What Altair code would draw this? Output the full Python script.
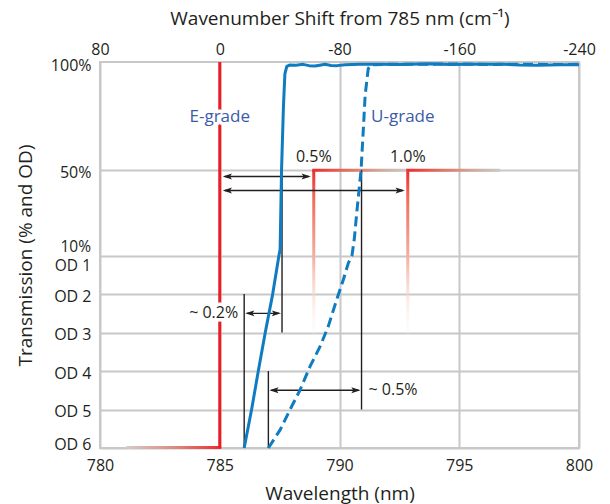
import altair as alt
import pandas as pd

FONT = "Open Sans"
INK = "#231f20"
RED = "#ed1c24"
BLUE = "#0f7bc1"
LBLUE = "#3b5ba8"
GRID = "#c8c8c8"

# ---------------- data (wavelength nm, transmission %) ----------------
# E-grade edge (solid blue)
e_wl = [786.02, 786.33, 786.61, 786.90, 787.21, 787.47, 787.52, 787.58, 787.66, 787.72, 787.80, 787.93,
        788.18, 788.48, 788.73, 788.98, 789.23, 789.39, 789.65, 789.90, 790.23, 790.86, 791.69,
        792.53, 793.78, 794.61, 795.45, 796.83, 797.54, 798.25, 799.21, 800.0]
e_tr = [0.0001, 0.001, 0.01, 0.1, 1, 10, 12.8, 50, 80, 95, 98.6, 99.2,
        99.1, 99.5, 98.9, 98.7, 99.2, 99.5, 99.0, 98.9, 99.3, 99.5, 99.6,
        99.4, 99.8, 99.4, 99.6, 99.5, 99.2, 99.1, 99.3, 99.3]
# U-grade edge (dashed blue)
u_wl = [787.03, 787.52, 788.00, 788.35, 788.77, 789.19, 789.53, 789.88, 790.16, 790.37, 790.52, 790.62,
        790.72, 790.90, 791.00, 791.07, 791.20, 791.32, 792.2, 793.4, 794.8, 796.2, 797.6, 798.9, 800.0]
u_tr = [0.0001, 0.000295, 0.0012, 0.0032, 0.0132, 0.0437, 0.1445, 0.708, 2.37, 6.46, 10, 18,
        30, 50, 70, 85, 97.5, 99.3, 99.6, 99.5, 99.7, 99.4, 99.6, 99.4, 99.5]

laser_nm = 785.0
foot_start_nm = 781.1          # start of the E-grade OD 6 foot
top_tr = 100.6                 # transmission at the top of the plot

step_nm = [788.925, 792.85]    # 785 nm + 0.5 % and + 1.0 %
step_end_nm = [792.85, 796.7]
step_lbl = ["0.5%", "1.0%"]
step_tr = 50
step_fade_tr = 0.043
step_lbl_tr = 56

arr_from = [785.0, 785.0, 786.02, 787.03]
arr_to = [788.925, 792.85, 787.6, 790.92]
arr_tr = [47, 40.5, 0.316, 0.00316]

vl_nm = [786.02, 787.6, 787.03, 790.92]
vl_top = [1, 50, 0.01, 50]
vl_bot = [0.0001, 0.1, 0.0001, 0.001]

grade_lbl = ["E-grade", "U-grade"]
grade_nm = [785.0, 791.32]
grade_tr = 75

pct_lbl = ["~ 0.2%", "~ 0.5%"]

x_ticks = [780, 785, 790, 795, 800]
top_ticks = [80, 0, -80, -160, -240]      # wavenumber shift labels shown above the gridlines
od_ticks = [6, 5, 4, 3, 2]
pct_ticks = [50, 100]

# ---------------- helpers ----------------
def hexpr(f):
    return (f"datum.{f} >= 10 ? 5 + (datum.{f} - 10) / 18 : "
            f"6 + log(datum.{f} / 100) / LN10")

def hpos(t):
    import math
    return 5 + (t - 10) / 18 if t >= 10 else 6 + math.log10(t / 100)

W, H = 479, 386
Y_TOP = hpos(top_tr)
XS = alt.Scale(domain=[780, 800], nice=False, zero=False)
YS = alt.Scale(domain=[0, Y_TOP], nice=False, zero=False)

def X(f):
    return alt.X(f"{f}:Q", scale=XS, axis=None)

def X2(f):
    return alt.X2(f"{f}:Q")

def Y(f):
    return alt.Y(f"{f}:Q", scale=YS, axis=None)

def Y2(f):
    return alt.Y2(f"{f}:Q")

GS = alt.GradientStop

# ---------------- axes layers ----------------
y_vals = [6 - od for od in od_ticks] + [5] + [hpos(p) for p in pct_ticks]
lab = "''"
for od in od_ticks:
    lab = f"abs(datum.value - {6 - od}) < 0.01 ? 'OD {od}' : " + lab
for p in pct_ticks:
    lab = f"abs(datum.value - {hpos(p):.4f}) < 0.01 ? '{p}%' : " + lab

top_lab = "''"
for xv, s in zip(x_ticks, top_ticks):
    top_lab = f"datum.value == {xv} ? '{s}' : " + top_lab

axis_layer = alt.Chart(pd.DataFrame({"x": [780.0], "h": [0.0]})).mark_point(opacity=0).encode(
    x=alt.X("x:Q", scale=XS, axis=alt.Axis(
        orient="bottom", values=x_ticks, title="Wavelength (nm)", grid=True, ticks=False, domain=False,
        labelFlush=False, labelPadding=9, format="d", titleY=45, titleBaseline="middle")),
    y=alt.Y("h:Q", scale=YS, axis=alt.Axis(
        orient="left", values=y_vals, labelExpr=lab, grid=True, ticks=False, domain=False,
        labelPadding=9, labelFlush=False,
        labelOffset={"condition": {"test": "datum.value < 0.5", "value": -4}, "value": 2},
        gridOpacity={"condition": {"test": "datum.value > 9.5", "value": 0}, "value": 1},
        title="Transmission (% and OD)", titleX=-75, titleY=H / 2,
        titleBaseline="middle", titleAlign="center")),
)

top_axis_layer = alt.Chart(pd.DataFrame({"x": [780.0]})).mark_point(opacity=0).encode(
    x=alt.X("x:Q", scale=XS, axis=alt.Axis(
        orient="top", values=x_ticks, labelExpr=top_lab, title="Wavenumber Shift from 785 nm (cm⁻¹)",
        ticks=False, domain=False, grid=False, labelFlush=False, labelPadding=5,
        titleY=-44, titleX=W / 2, titleBaseline="middle")),
    y=alt.value(0),
)

# 10% / OD 1 shared gridline labels
y1_df = pd.DataFrame({"t": [10]})
lbl10 = alt.Chart(y1_df).transform_calculate(h=hexpr("t")).mark_text(
    text="10%", align="right", baseline="middle", dy=-9, font=FONT, fontSize=15.5, color=INK
).encode(x=alt.value(-9), y=Y("h"))
lblod1 = alt.Chart(y1_df).transform_calculate(h=hexpr("t")).mark_text(
    text="OD 1", align="right", baseline="middle", dy=10, font=FONT, fontSize=15.5, color=INK
).encode(x=alt.value(-9), y=Y("h"))

# ---------------- red step markers ----------------
steps = pd.DataFrame({"nm": step_nm, "end": step_end_nm, "lbl": step_lbl,
                      "tt": [step_tr] * 2, "tb": [step_fade_tr] * 2})
grad_v = alt.Gradient(gradient="linear", x1=0, y1=0, x2=0, y2=1, stops=[
    GS(offset=0, color="#ee2a2f"), GS(offset=0.15, color="#f06a58"),
    GS(offset=0.5, color="#f6b1a2"), GS(offset=1, color="rgba(255,255,255,0)")])
grad_h = alt.Gradient(gradient="linear", x1=0, y1=0, x2=1, y2=0, stops=[
    GS(offset=0, color="#ee2a2f"), GS(offset=0.35, color="#e06f5f"),
    GS(offset=0.7, color="#cfa89b"), GS(offset=1, color="#c9c9c9")])
grad_f = alt.Gradient(gradient="linear", x1=0, y1=0, x2=1, y2=0, stops=[
    GS(offset=0, color="#d4caca"), GS(offset=0.5, color="#dc8c80"), GS(offset=1, color="#ee2a2f")])

step_base = alt.Chart(steps).transform_calculate(ht=hexpr("tt"), hb=hexpr("tb"))
step_v = step_base.mark_rect(fill=grad_v, xOffset=-1.5, x2Offset=1.5).encode(
    x=X("nm"), x2=X2("nm"), y=Y("ht"), y2=Y2("hb"))
step_h = step_base.mark_rect(fill=grad_h, xOffset=-1.5, yOffset=-1.5, y2Offset=1.5).encode(
    x=X("nm"), x2=X2("end"), y=Y("ht"), y2=Y2("ht"))

foot = alt.Chart(pd.DataFrame({"a": [foot_start_nm], "b": [laser_nm], "t": [0.0001]})).transform_calculate(
    h=hexpr("t")).mark_rect(fill=grad_f, x2Offset=1.5, yOffset=-2, y2Offset=1).encode(
    x=X("a"), x2=X2("b"), y=Y("h"), y2=Y2("h"))

laser = alt.Chart(pd.DataFrame({"nm": [laser_nm], "t0": [0.0001], "t1": [top_tr]})).transform_calculate(
    h0=hexpr("t0"), h1=hexpr("t1")).mark_rule(color=RED, strokeWidth=3).encode(
    x=X("nm"), y=Y("h0"), y2=Y2("h1"))

# ---------------- black measurement lines ----------------
vlines = alt.Chart(pd.DataFrame({"nm": vl_nm, "tt": vl_top, "tb": vl_bot})).transform_calculate(
    ht=hexpr("tt"), hb=hexpr("tb")).mark_rule(color=INK, strokeWidth=1.4).encode(
    x=X("nm"), y=Y("ht"), y2=Y2("hb"))

RIGHT_HEAD = "M0,0L-1,-0.32L-0.78,0L-1,0.32Z"
LEFT_HEAD = "M0,0L1,-0.32L0.78,0L1,0.32Z"

def arrows(df, gap):
    base = alt.Chart(df).transform_calculate(h=hexpr("t"))
    line = base.mark_rule(color=INK, strokeWidth=1.4, xOffset=gap + 2, x2Offset=-gap - 2).encode(
        x=X("a"), x2=X2("b"), y=Y("h"))
    lh = base.mark_point(shape=LEFT_HEAD, size=340, filled=True, color=INK, opacity=1,
                         strokeWidth=0, xOffset=gap).encode(x=X("a"), y=Y("h"))
    rh = base.mark_point(shape=RIGHT_HEAD, size=340, filled=True, color=INK, opacity=1,
                         strokeWidth=0, xOffset=-gap).encode(x=X("b"), y=Y("h"))
    return [line, lh, rh]

arr_df = pd.DataFrame({"a": arr_from, "b": arr_to, "t": arr_tr})
arr_red = arrows(arr_df.iloc[:2], 3)
arr_blk = arrows(arr_df.iloc[2:], 1)

# ---------------- transmission curves ----------------
e_line = alt.Chart(pd.DataFrame({"nm": e_wl, "t": e_tr})).transform_calculate(
    h=hexpr("t")).mark_line(color=BLUE, strokeWidth=3, strokeJoin="round").encode(
    x=X("nm"), y=Y("h"), order="nm:Q")
u_line = alt.Chart(pd.DataFrame({"nm": u_wl, "t": u_tr})).transform_calculate(
    h=hexpr("t")).mark_line(color=BLUE, strokeWidth=3, strokeDash=[10, 5]).encode(
    x=X("nm"), y=Y("h"), order="nm:Q")

# ---------------- texts ----------------
grade_df = pd.DataFrame({"nm": grade_nm, "lbl": grade_lbl, "t": [grade_tr] * 2})
e_df = grade_df.iloc[:1]
u_df = grade_df.iloc[1:]

def txt(df, halo=False, **kw):
    props = dict(font=FONT, baseline="middle")
    props.update(kw)
    if halo:
        props.update(stroke="white", strokeWidth=7, strokeJoin="round", fill="white")
    return alt.Chart(df).transform_calculate(h=hexpr("t")).mark_text(**props).encode(
        x=X("nm"), y=Y("h"), text="lbl:N")

pct_df = pd.DataFrame({"nm": [arr_from[2], arr_to[3]], "t": [arr_tr[2], arr_tr[3]], "lbl": pct_lbl})
p02 = pct_df.iloc[:1]
p05 = pct_df.iloc[1:]
step_txt_df = pd.DataFrame({"nm": step_nm, "t": [step_lbl_tr] * 2, "lbl": step_lbl})

texts = [
    txt(e_df, halo=True, align="center", fontSize=17),
    txt(e_df, align="center", fontSize=17, color=LBLUE),
    txt(u_df, align="left", fontSize=17, color=LBLUE),
    txt(p02, halo=True, align="right", dx=-6, fontSize=16),
    txt(p02, align="right", dx=-6, fontSize=16, color=INK),
    txt(p05, align="left", dx=7, fontSize=16, color=INK),
    txt(step_txt_df, align="center", fontSize=16, color=INK),
]

chart = alt.layer(
    axis_layer, top_axis_layer, step_v, step_h, foot, laser, vlines, *arr_red, *arr_blk,
    e_line, u_line, *texts, lbl10, lblod1,
).resolve_axis(x="independent", y="independent").properties(
    width=W, height=H,
    autosize=alt.AutoSizeParams(type="none"),
    padding={"left": 100, "top": 62, "right": 31, "bottom": 56},
).configure_view(stroke=GRID, strokeWidth=2).configure_axis(
    labelFont=FONT, titleFont=FONT, labelColor=INK, titleColor=INK,
    labelFontSize=16, titleFontSize=19, titleFontWeight="normal",
    gridColor=GRID, gridWidth=2,
)

chart.save("out.html", embed_options={"renderer": "svg", "actions": False})
